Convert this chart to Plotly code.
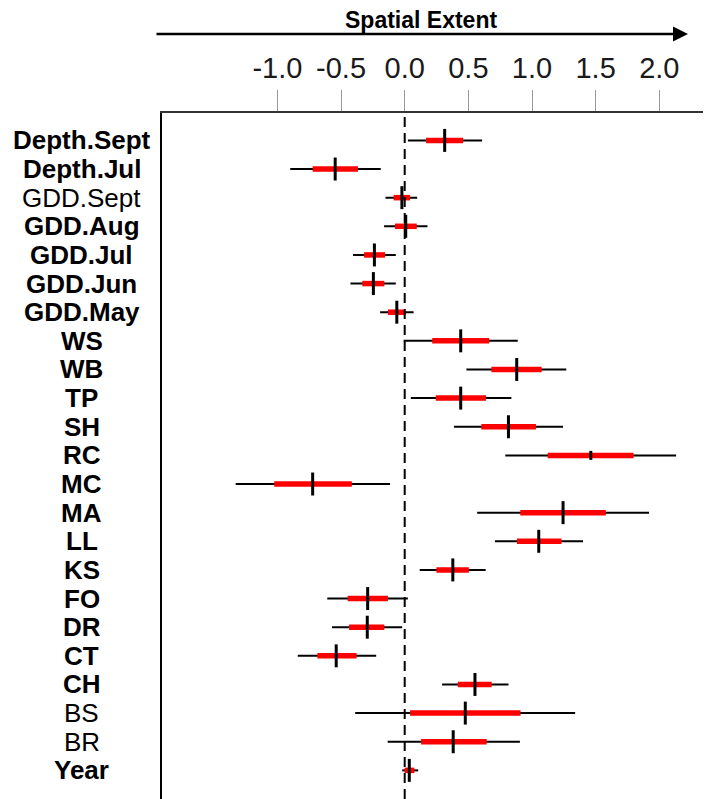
import plotly.graph_objects as go

# ---------------- data ----------------
categories = ["Depth.Sept", "Depth.Jul", "GDD.Sept", "GDD.Aug", "GDD.Jul", "GDD.Jun",
              "GDD.May", "WS", "WB", "TP", "SH", "RC", "MC", "MA", "LL", "KS", "FO",
              "DR", "CT", "CH", "BS", "BR", "Year"]
lo95 = [0.025, -0.899, -0.151, -0.162, -0.406, -0.426, -0.193, -0.008, 0.485, 0.048, 0.387,
        0.790, -1.328, 0.569, 0.709, 0.118, -0.608, -0.571, -0.840, 0.294, -0.389, -0.134, -0.020]
lo50 = [0.168, -0.723, -0.087, -0.076, -0.319, -0.333, -0.132, 0.216, 0.681, 0.244, 0.602,
        1.123, -1.025, 0.908, 0.882, 0.249, -0.448, -0.437, -0.686, 0.417, 0.042, 0.129, 0.000]
median = [0.314, -0.546, -0.022, 0.008, -0.238, -0.246, -0.062, 0.440, 0.880, 0.440, 0.815,
          1.462, -0.723, 1.244, 1.053, 0.378, -0.291, -0.294, -0.538, 0.552, 0.476, 0.381, 0.036]
hi50 = [0.459, -0.367, 0.042, 0.095, -0.154, -0.160, 0.008, 0.664, 1.076, 0.639, 1.031,
        1.798, -0.415, 1.580, 1.232, 0.504, -0.132, -0.160, -0.378, 0.683, 0.910, 0.644, 0.076]
hi95 = [0.608, -0.188, 0.098, 0.179, -0.070, -0.070, 0.070, 0.888, 1.269, 0.838, 1.244,
        2.132, -0.115, 1.919, 1.401, 0.636, 0.025, -0.020, -0.224, 0.815, 1.339, 0.905, 0.106]
tick_vals = [-1.0, -0.5, 0.0, 0.5, 1.0, 1.5, 2.0]
tick_text = ["-1.0", "-0.5", "0.0", "0.5", "1.0", "1.5", "2.0"]
axis_title = "Spatial Extent"
regular_labels = {"GDD.Sept", "BS", "BR"}

# ---------------- styles / layout geometry ----------------
FONT = "Liberation Sans, Arial, sans-serif"
OFF = 8                       # default page (body) margin
WIN_W, WIN_H = 711, 799
W, H = WIN_W - OFF, WIN_H - OFF
PLOT_LEFT, PLOT_TOP = 162, 113   # page pixel positions of the frame
ML, MT = PLOT_LEFT - OFF, PLOT_TOP - OFF
plot_w = W - ML
plot_h = H - MT


def px_x(page_x):
    return (page_x - PLOT_LEFT) / plot_w


def px_y(page_y):
    return (WIN_H - page_y) / plot_h


fig = go.Figure()

x95, y95 = [], []
for c, a, b in zip(categories, lo95, hi95):
    x95 += [a, b, None]
    y95 += [c, c, None]
fig.add_trace(go.Scatter(x=x95, y=y95, mode="lines",
                         line=dict(color="black", width=2), hoverinfo="skip"))

x50, y50 = [], []
for c, a, b in zip(categories, lo50, hi50):
    x50 += [a, b, None]
    y50 += [c, c, None]
fig.add_trace(go.Scatter(x=x50, y=y50, mode="lines",
                         line=dict(color="#ff0000", width=5.5), hoverinfo="skip"))

tick_sizes = [6.4 if c == "RC" else 16.4 for c in categories]
fig.add_trace(go.Scatter(x=median, y=categories, mode="markers",
                         marker=dict(symbol="line-ns", size=tick_sizes, color="black",
                                     opacity=1, line=dict(color="black", width=3)),
                         hoverinfo="skip"))

# zero reference line
fig.add_shape(type="line", x0=0, x1=0, xref="x", y0=0, y1=1, yref="paper",
              line=dict(color="black", width=2, dash="10px,6px"), layer="above")

# row labels
for c in categories:
    txt = c if c in regular_labels else "<b>%s</b>" % c
    fig.add_annotation(x=px_x(82), xref="paper", y=c, yref="y", text=txt,
                       showarrow=False, xanchor="center", yanchor="middle",
                       font=dict(family=FONT, size=26, color="black"))

# axis direction arrow + title
fig.add_annotation(x=px_x(688), xref="paper", y=px_y(34), yref="paper",
                   ax=-533, ay=0, text="", showarrow=True, arrowhead=2,
                   arrowwidth=2.5, arrowsize=1.2, arrowcolor="black", standoff=0)
fig.add_annotation(x=px_x(421), xref="paper", y=px_y(20), yref="paper",
                   text="<b>%s</b>" % axis_title, showarrow=False,
                   xanchor="center", yanchor="middle",
                   font=dict(family=FONT, size=23, color="black"))

px_per_unit = 127.3
zero_px = 404.7
x_lo = (PLOT_LEFT - zero_px) / px_per_unit
x_hi = (WIN_W - zero_px) / px_per_unit

fig.update_layout(
    width=W, height=H,
    margin=dict(l=ML, r=0, t=MT, b=0, pad=0),
    paper_bgcolor="white", plot_bgcolor="white",
    showlegend=False,
    xaxis=dict(side="top", range=[x_lo, x_hi], tickvals=tick_vals, ticktext=tick_text,
               ticks="outside", ticklen=21, tickwidth=1, tickcolor="#999999",
               tickfont=dict(family=FONT, size=29, color="#1a1a1a"),
               showline=True, linecolor="#333333", linewidth=2,
               showgrid=False, zeroline=False, fixedrange=True),
    yaxis=dict(type="category", categoryorder="array", categoryarray=categories,
               range=[23.0, -0.957], showticklabels=False, ticks="",
               showline=True, linecolor="black", linewidth=1.5,
               showgrid=False, zeroline=False, fixedrange=True),
)

fig.write_html("out.html")
